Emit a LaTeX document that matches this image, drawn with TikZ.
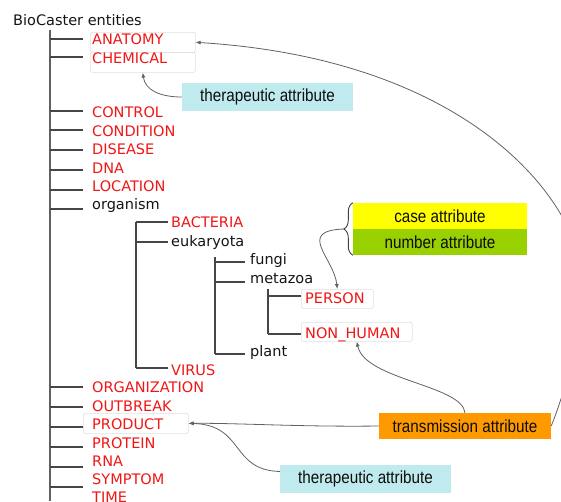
\documentclass[tikz,border=0pt]{standalone}
\usepackage{fontspec}
\setmainfont{DejaVu Sans}
\newfontfamily\attrfont[FakeStretch=0.87]{Liberation Sans}
\usetikzlibrary{arrows.meta,decorations.pathreplacing}
\definecolor{lblred}{RGB}{240,22,22}
\definecolor{thercyan}{RGB}{192,235,238}
\definecolor{caseyellow}{RGB}{255,255,0}
\definecolor{numgreen}{RGB}{153,208,0}
\definecolor{transorange}{RGB}{255,153,0}
\definecolor{treeline}{RGB}{70,70,70}
\tikzset{
  lbl/.style={anchor=west, inner sep=0pt, text height=11pt, text depth=0pt, font=\fontsize{14.5}{16}\selectfont, text=black!92},
  red lbl/.style={lbl, text=lblred},
  br/.style={draw=treeline, line width=1.4pt},
  trunkline/.style={draw=black!62, line width=1.6pt},
  hlbox/.style={draw=black!13, line width=0.6pt, rounded corners=2pt, inner sep=0pt, anchor=north west},
  attr/.style={inner sep=0pt, font=\attrfont\fontsize{17.5}{20}\selectfont, text=black!95},
  conn/.style={draw=black!62, line width=0.8pt, -{Latex[length=5pt,width=4pt]}},
}
\begin{document}
\begin{tikzpicture}[x=1pt,y=-1pt]
\useasboundingbox (0,0) rectangle (561,501);
% highlight boxes
\node[hlbox, minimum width=105pt, minimum height=20pt] (anabox) at (90,32) {};
\node[hlbox, minimum width=105pt, minimum height=20pt] (chembox) at (90,52) {};
\node[hlbox, minimum width=105pt, minimum height=20pt] (prodbox) at (83,413) {};
\node[hlbox, minimum width=72pt, minimum height=19pt] (personbox) at (301,289) {};
\node[hlbox, minimum width=111pt, minimum height=19pt] (nhbox) at (301,322) {};
% root
\node[lbl] (root) at (13,20) {BioCaster entities};
\draw[trunkline] (root.south west) ++(37,4) coordinate (trunktop) -- (50,501);
% main items
\node[red lbl] (ana) at (92,39) {ANATOMY};
\node[red lbl] (chem) at (92,57.5) {CHEMICAL};
\node[red lbl] (ctl) at (92,112) {CONTROL};
\node[red lbl] (cond) at (92,131) {CONDITION};
\node[red lbl] (dis) at (92,149) {DISEASE};
\node[red lbl] (dna) at (92,168) {DNA};
\node[red lbl] (loc) at (92,186) {LOCATION};
\node[lbl] (org) at (92,204) {organism};
\node[red lbl] (orgz) at (92,387) {ORGANIZATION};
\node[red lbl] (outb) at (92,406) {OUTBREAK};
\node[red lbl] (prod) at (92,424) {PRODUCT};
\node[red lbl] (prot) at (92,443) {PROTEIN};
\node[red lbl] (rna) at (92,461) {RNA};
\node[red lbl] (sym) at (92,479) {SYMPTOM};
\node[red lbl] (time) at (92,497) {TIME};
\draw[br] ([shift={(-9,0)}]ana.west) -- ++(-33,0);
\draw[br] ([shift={(-9,-0.5)}]chem.west) -- ++(-33,0);
\draw[br] ([shift={(-9,-1)}]ctl.west) -- ++(-33,0);
\draw[br] ([shift={(-9,-1)}]cond.west) -- ++(-33,0);
\draw[br] ([shift={(-9,1)}]dis.west) -- ++(-33,0);
\draw[br] ([shift={(-9,2)}]dna.west) -- ++(-33,0);
\draw[br] ([shift={(-9,4)}]loc.west) -- ++(-33,0);
\draw[br] ([shift={(-9,5)}]org.west) -- ++(-33,0);
\draw[br] ([shift={(-9,0)}]orgz.west) -- ++(-33,0);
\draw[br] ([shift={(-9,1)}]outb.west) -- ++(-33,0);
\draw[br] ([shift={(-9,3)}]prod.west) -- ++(-33,0);
\draw[br] ([shift={(-9,4)}]prot.west) -- ++(-33,0);
\draw[br] ([shift={(-9,6)}]rna.west) -- ++(-33,0);
\draw[br] ([shift={(-9,8)}]sym.west) -- ++(-33,0);
% organism subtree
\node[red lbl] (bact) at (171,222) {BACTERIA};
\node[lbl] (euk) at (171,241) {eukaryota};
\node[red lbl] (virus) at (171,370) {VIRUS};
\draw[br] ([shift={(-3,0)}]bact.west) -- ++(-32,0) coordinate (orgtop);
\draw[br] ([shift={(-3,1)}]euk.west) -- ++(-32,0);
\draw[br] ([shift={(-3,-2)}]virus.west) -- ++(-32,0) coordinate (orgbot);
\draw[br] (orgtop) -- (orgbot);
% eukaryota subtree
\node[lbl] (fungi) at (250,259) {fungi};
\node[lbl] (meta) at (250,278) {metazoa};
\node[lbl] (plant) at (250,351) {plant};
\draw[br] ([shift={(-5,3)}]fungi.west) -- ++(-30,0) coordinate (euktop);
\draw[br] ([shift={(-5,4)}]meta.west) -- ++(-30,0);
\draw[br] ([shift={(-5,3)}]plant.west) -- ++(-30,0) coordinate (eukbot);
\draw[br] (euktop) ++(0,-5) -- (eukbot);
% metazoa subtree
\node[red lbl] (person) at (305,298) {PERSON};
\node[red lbl] (nonhum) at (305,333) {NON\_HUMAN};
\draw[br] (personbox.west |- 0,296) coordinate (pb) -- ++(-33,0) coordinate (metatop);
\draw[br] (nhbox.west |- 0,334) -- ++(-33,0) coordinate (metabot);
\draw[br] (metatop) ++(0,-7) -- (metabot);
% attribute boxes
\node[attr, fill=thercyan, minimum width=171pt, minimum height=28pt] (ther1) at (267.5,97) {therapeutic attribute};
\node[attr, fill=caseyellow, minimum width=174pt, minimum height=26pt] (case) at (440,216) {case attribute};
\node[attr, fill=numgreen, minimum width=174pt, minimum height=26pt] (num) at (440,242) {number attribute};
\node[attr, fill=transorange, minimum width=172pt, minimum height=26pt] (trans) at (465,426) {transmission attribute};
\node[attr, fill=thercyan, minimum width=171pt, minimum height=28pt] (ther2) at (365.5,479) {therapeutic attribute};
% brace
\draw[draw=black!75, line width=0.9pt, decorate, decoration={brace, amplitude=9pt}] (num.south west) -- (case.north west);
\coordinate (btip) at (343.5,229);
% connectors
\draw[conn] (ther1.west) .. controls (160,97) and (145,90) .. (chembox.south);
\draw[conn] (btip) .. controls (296,231) and (334,258) .. (personbox.north);
\draw[conn] (trans.north) .. controls (462,385) and (365,380) .. (nhbox.south);
\draw[conn] (trans.west) .. controls (300,427) and (240,423) .. (prodbox.east);
\draw[conn] (ther2.175) .. controls (230,470) and (245,425) .. (prodbox.east);
\draw[conn] (trans.east) .. controls (561,402) and (582,340) .. (582,280) .. controls (582,210) and (480,60) .. (anabox.east);
\end{tikzpicture}
\end{document}
